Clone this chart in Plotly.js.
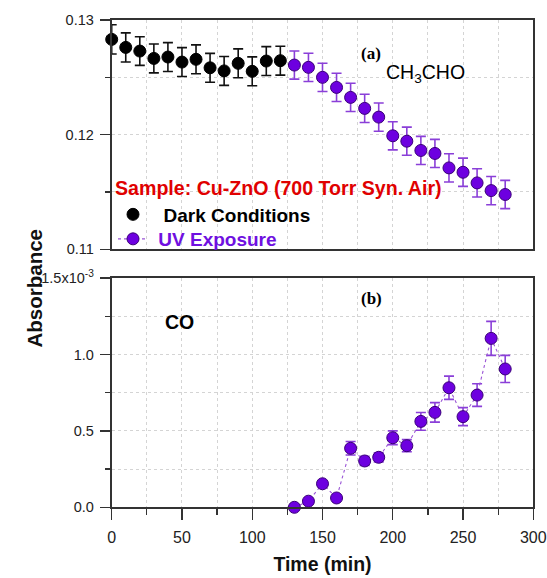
<!DOCTYPE html>
<html>
<head>
<meta charset="utf-8">
<script src="https://cdn.plot.ly/plotly-3.0.1.min.js"></script>
<style>html,body{margin:0;padding:0;background:#fff;}#chart{width:547px;height:578px;}</style>
</head>
<body>
<div id="chart"></div>
<script>
// CH3CHO panel (a)
const darkTime = [0, 10, 20, 30, 40, 50, 60, 70, 80, 90, 100, 110, 120];
const darkAbs  = [0.12831, 0.12761, 0.12729, 0.12665, 0.12677, 0.12633, 0.12657, 0.12583, 0.12556, 0.12622, 0.12552, 0.12642, 0.12645];
const darkErr  = [0.00127, 0.00127, 0.00125, 0.00126, 0.00126, 0.00126, 0.00126, 0.00126, 0.00126, 0.00126, 0.00126, 0.00126, 0.00126];
const uvTime   = [130, 140, 150, 160, 170, 180, 190, 200, 210, 220, 230, 240, 250, 260, 270, 280];
const uvAbs    = [0.12607, 0.12587, 0.12500, 0.12412, 0.12325, 0.12229, 0.12153, 0.11990, 0.11943, 0.11862, 0.11836, 0.11710, 0.11672, 0.11579, 0.11512, 0.11478];
const uvErr    = [0.00123, 0.00123, 0.00123, 0.00123, 0.00123, 0.00123, 0.00123, 0.00123, 0.00123, 0.00123, 0.00123, 0.00123, 0.00123, 0.00123, 0.00123, 0.00123];
// CO panel (b), values in units of 1e-3
const coTime   = [130, 140, 150, 160, 170, 180, 190, 200, 210, 220, 230, 240, 250, 260, 270, 280];
const coAbs    = [0.0, 0.04, 0.154, 0.061, 0.386, 0.303, 0.327, 0.455, 0.403, 0.562, 0.621, 0.782, 0.593, 0.734, 1.105, 0.905];
const coErr    = [0.0, 0.0, 0.0, 0.0, 0.044, 0.03, 0.03, 0.045, 0.04, 0.058, 0.064, 0.076, 0.059, 0.074, 0.111, 0.089];
const xTicks = [0, 50, 100, 150, 200, 250, 300];
const coTickVals = [0, 0.5, 1.0, 1.5];
const coTickText = ['0.0', '0.5', '1.0', '1.5x10<sup>-3</sup>'];
const topTickVals = [0.11, 0.12, 0.13];
const topTickText = ['0.11', '0.12', '0.13'];

const PURPLE = '#6d00e0';
const PURPLE_EDGE = '#3a0078';
const PURPLE_ERR = '#8a3fd8';
const FONT = 'Liberation Sans, Arial, sans-serif';
const NB = '\u00a0';

const traces = [
  {
    x: darkTime, y: darkAbs, xaxis: 'x', yaxis: 'y', type: 'scatter', mode: 'markers',
    name: NB + NB + 'Dark Conditions', legend: 'legend',
    marker: {color: '#000', size: 12, line: {color: '#000', width: 1}},
    error_y: {type: 'data', array: darkErr, visible: true, color: '#111', thickness: 1.6, width: 5},
    cliponaxis: false
  },
  {
    x: uvTime, y: uvAbs, xaxis: 'x', yaxis: 'y', type: 'scatter', mode: 'markers',
    name: 'UV top', showlegend: false,
    marker: {color: PURPLE, size: 12, line: {color: PURPLE_EDGE, width: 1}},
    error_y: {type: 'data', array: uvErr, visible: true, color: PURPLE_ERR, thickness: 1.6, width: 5},
    cliponaxis: false
  },
  {
    x: coTime, y: coAbs, xaxis: 'x2', yaxis: 'y2', type: 'scatter', mode: 'lines+markers',
    name: NB + '<span style="color:#6f10e0">UV Exposure</span>', legend: 'legend2',
    line: {color: '#9a55d6', width: 1.1, dash: 'dot'},
    marker: {color: PURPLE, size: 12, line: {color: PURPLE_EDGE, width: 1}},
    error_y: {type: 'data', array: coErr, visible: true, color: PURPLE_ERR, thickness: 1.6, width: 5},
    cliponaxis: false
  }
];

const xdom = [111.7/547, 533.3/547];
const gridStyle = {showgrid: true, gridcolor: '#d4d4d4', griddash: 'dot', gridwidth: 1};
const tickFontY = {family: FONT, size: 14.5, color: '#222'};
const tickFontX = {family: FONT, size: 16, color: '#222'};
const legendFont = {family: FONT, size: 19, color: '#000', weight: 'bold'};

const layout = {
  width: 547, height: 578,
  margin: {l: 0, r: 0, t: 0, b: 0},
  paper_bgcolor: '#fff', plot_bgcolor: '#fff',
  font: {family: FONT, color: '#222', size: 13},
  showlegend: true,
  legend: {
    x: 113/547, y: (578-170)/578, xanchor: 'left', yanchor: 'top',
    bgcolor: 'rgba(0,0,0,0)', borderwidth: 0,
    font: legendFont,
    title: {text: '<b>Sample: Cu-ZnO (700 Torr Syn. Air)</b>', font: {family: FONT, size: 19.6, color: '#e00000'}},
    tracegroupgap: 0
  },
  legend2: {
    x: 113/547, y: (578-220)/578, xanchor: 'left', yanchor: 'top',
    bgcolor: 'rgba(0,0,0,0)', borderwidth: 0,
    font: legendFont, tracegroupgap: 0
  },
  xaxis: {
    domain: xdom, anchor: 'y', range: [0, 300], showticklabels: false,
    showline: true, linecolor: '#333', linewidth: 1.8, mirror: true,
    ticks: '', zeroline: false,
    tickvals: xTicks, ...gridStyle,
    minor: {dtick: 25, tick0: 0, showgrid: true, gridcolor: '#d4d4d4', griddash: 'dot', ticks: ''}
  },
  yaxis: {
    domain: [(578-249.3)/578, (578-20)/578], anchor: 'x', range: [0.11, 0.13],
    showline: true, linecolor: '#333', linewidth: 2, mirror: true,
    ticks: 'outside', ticklen: 10, tickwidth: 1.3, tickcolor: '#333', ticklabelstandoff: 3,
    tickvals: topTickVals, ticktext: topTickText, zeroline: false, ...gridStyle,
    tickfont: tickFontY,
    minor: {dtick: 0.005, tick0: 0.11, ticks: 'outside', ticklen: 5, tickcolor: '#333', showgrid: true, gridcolor: '#d4d4d4', griddash: 'dot'}
  },
  xaxis2: {
    domain: xdom, anchor: 'y2', range: [0, 300],
    showline: true, linecolor: '#333', linewidth: 2, mirror: true,
    ticks: 'outside', ticklen: 11, tickwidth: 1.3, tickcolor: '#333', ticklabelstandoff: 3,
    tickvals: xTicks, zeroline: false, ...gridStyle,
    tickfont: tickFontX,
    minor: {dtick: 25, tick0: 0, ticks: 'outside', ticklen: 6, tickcolor: '#333', showgrid: true, gridcolor: '#d4d4d4', griddash: 'dot'},
    title: {text: '<b>Time (min)</b>', font: {family: FONT, size: 19.5, color: '#111'}, standoff: 13}
  },
  yaxis2: {
    domain: [(578-507.3)/578, (578-278)/578], anchor: 'x2', range: [0, 1.5],
    showline: true, linecolor: '#333', linewidth: 2, mirror: true,
    ticks: 'outside', ticklen: 10, tickwidth: 1.3, tickcolor: '#333', ticklabelstandoff: 3,
    tickvals: coTickVals, ticktext: coTickText, zeroline: false, ...gridStyle,
    tickfont: tickFontY,
    minor: {dtick: 0.25, tick0: 0, ticks: 'outside', ticklen: 5, tickcolor: '#333', showgrid: true, gridcolor: '#d4d4d4', griddash: 'dot'}
  },
  annotations: [
    {xref: 'paper', yref: 'paper', x: 383/547, y: (578-42)/578, text: '<b>(a)</b>', showarrow: false,
     font: {family: 'Liberation Serif, Times New Roman, serif', size: 17, color: '#000'}},
    {xref: 'paper', yref: 'paper', x: 467/547, y: (578-59)/578, text: 'CH<sub>3</sub>CHO', showarrow: false,
     font: {family: FONT, size: 19.5, color: '#000'}},
    {xref: 'paper', yref: 'paper', x: 384/547, y: (578-298)/578, text: '<b>(b)</b>', showarrow: false,
     font: {family: 'Liberation Serif, Times New Roman, serif', size: 17, color: '#000'}},
    {xref: 'paper', yref: 'paper', x: 162.5/547, y: (578-322)/578, text: '<b>CO</b>', showarrow: false,
     font: {family: FONT, size: 19.5, color: '#000'}},
    {xref: 'paper', yref: 'paper', x: 20/547, y: (578-289)/578, text: '<b>Absorbance</b>', showarrow: false,
     textangle: -90, font: {family: FONT, size: 20.5, color: '#111'}}
  ]
};

Plotly.newPlot('chart', traces, layout, {displayModeBar: false, staticPlot: true});
</script>
</body>
</html>
